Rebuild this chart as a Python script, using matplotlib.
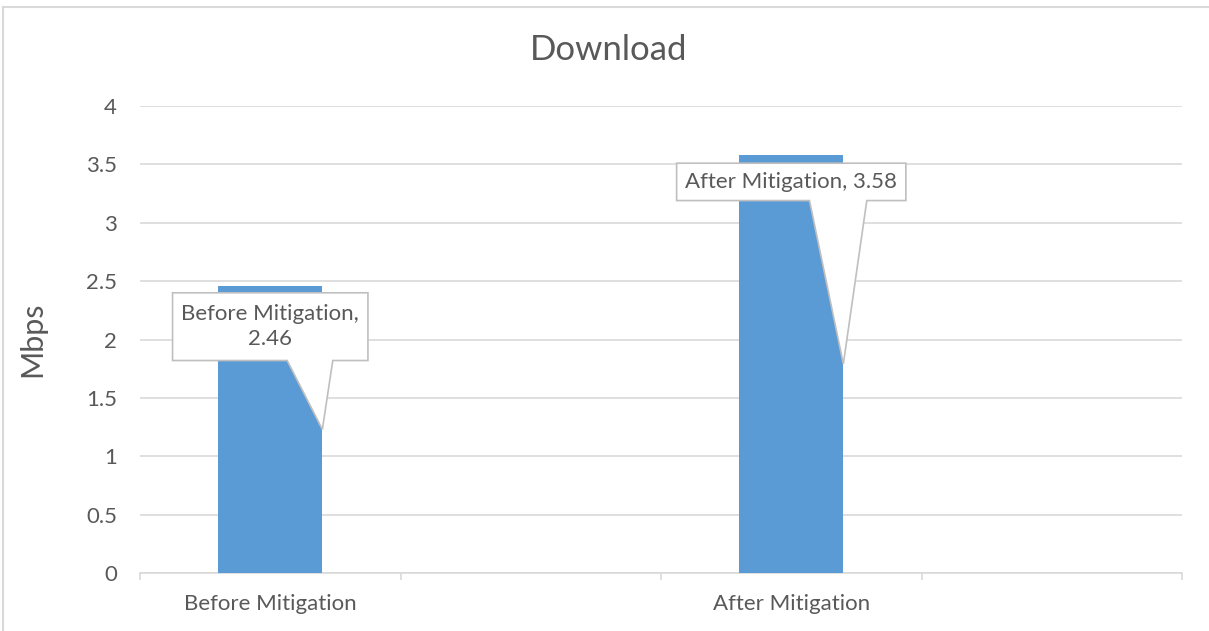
import matplotlib
matplotlib.use("Agg")
from matplotlib import pyplot as plt
from matplotlib.patches import Polygon
from matplotlib.lines import Line2D

# Download speed, before / after mitigation
categories = ["Before Mitigation", "", "After Mitigation", ""]
values = [2.46, None, 3.58, None]
callouts = ["Before Mitigation,\n2.46", None, "After Mitigation, 3.58", None]
yticks = [0, 0.5, 1, 1.5, 2, 2.5, 3, 3.5, 4]

plt.rcParams['font.family'] = ['Lato', 'DejaVu Sans']
txt = "#595959"
grid = "#D9D9D9"
blue = "#5B9BD5"

fig = plt.figure(figsize=(12.09, 6.31), dpi=100)
ax = fig.add_axes([140 / 1209, 58 / 631, 1042 / 1209, 467 / 631])

w = 0.4
for i, v in enumerate(values):
    if v is None:
        continue
    ax.bar(i, v, width=w, color=blue, zorder=2)

# callout boxes (box extent in data units, pointer to half the bar height)
boxes = {0: (0.75, 1.82, 2.40, 0.065, 0.24),
         2: (0.88, 3.19, 3.51, 0.07, 0.29)}
for i, (bw, y0, y1, p0, p1) in boxes.items():
    v = values[i]
    x0, x1 = i - bw / 2, i + bw / 2
    tip = (i + w / 2, v / 2)
    pts = [(x0, y0), (x0, y1), (x1, y1), (x1, y0),
           (i + p1, y0), tip, (i + p0, y0)]
    ax.add_patch(Polygon(pts, closed=True, facecolor="white", edgecolor="#BFBFBF",
                         lw=1.2, zorder=3))
    ax.text(i, (y0 + y1) / 2, callouts[i], ha="center", va="center",
            fontsize=16, color=txt, linespacing=1.35, zorder=4)

ax.set_xlim(-0.5, 3.5)
ax.set_ylim(0, 4)
ax.set_yticks(yticks)
ax.set_yticklabels([f"{t:g}" for t in yticks])
ax.yaxis.grid(True, color=grid, lw=1.2, zorder=0)
ax.tick_params(axis="y", length=0, pad=16.5, labelsize=16, labelcolor=txt)

ax.set_xticks([0, 1, 2, 3])
ax.set_xticklabels(categories)
ax.set_xticks([-0.5, 0.5, 1.5, 2.5, 3.5], minor=True)
ax.tick_params(axis="x", which="major", length=0, pad=15, labelsize=16, labelcolor=txt)
ax.tick_params(axis="x", which="minor", length=5, width=1.2, color=grid)

for s in ["top", "right", "left"]:
    ax.spines[s].set_visible(False)
ax.spines["bottom"].set_color(grid)
ax.spines["bottom"].set_linewidth(1.2)
ax.spines["bottom"].set_zorder(1)

ax.set_ylabel("Mbps", fontsize=22, color=txt)
ax.yaxis.set_label_coords(-0.09, 0.5)
fig.text(609 / 1209, 1 - 50 / 631, "Download", ha="center", va="center",
         fontsize=25, color=txt)

# outer chart border (only top and left visible)
fig.add_artist(Line2D([3 / 1209, 3 / 1209], [0, 1 - 7 / 631],
                      transform=fig.transFigure, color=grid, lw=1.5))
fig.add_artist(Line2D([3 / 1209, 1], [1 - 7 / 631, 1 - 7 / 631],
                      transform=fig.transFigure, color=grid, lw=1.5))

fig.savefig("out.png", dpi=100)
